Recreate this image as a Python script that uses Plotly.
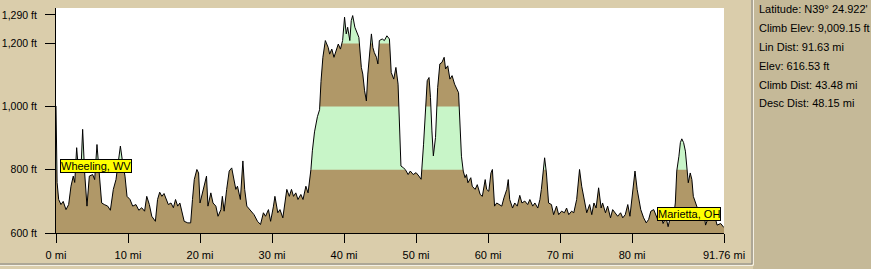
import plotly.graph_objects as go

# ---- elevation profile ----
dist_mi = [
    0.0, 0.05, 0.15, 0.37, 0.69, 1.0, 1.39, 1.76, 2.08, 2.4, 2.6, 2.87, 3.15, 3.47, 3.7, 3.98,
    4.3, 4.63, 5.09, 5.37, 5.69, 6.0, 6.34, 6.71, 7.18, 7.55, 7.96, 8.33, 8.6, 8.94, 9.26, 9.58,
    9.86, 10.28, 10.65, 11.1, 11.5, 11.9, 12.3, 12.6, 12.96, 13.3, 13.8, 14.1, 14.4, 14.7, 15.0,
    15.3, 15.6, 15.97, 16.3, 16.6, 16.9, 17.2, 17.5, 17.8, 18.3, 18.7, 18.95, 19.2, 19.56, 19.8,
    20.0, 20.3, 20.6, 20.9, 21.1, 21.5, 21.8, 22.2, 22.5, 22.9, 23.1, 23.35, 23.7, 24.05, 24.4,
    24.7, 24.97, 25.2, 25.6, 25.95, 26.2, 26.5, 27.06, 27.5, 27.98, 28.4, 28.8, 29.1, 29.5, 29.8,
    30.2, 30.4, 30.8, 31.1, 31.5, 31.8, 32.05, 32.4, 32.7, 32.98, 33.3, 33.6, 34.0, 34.3, 34.7,
    35.0, 35.4, 35.6, 35.9, 36.3, 36.6, 36.8, 37.06, 37.4, 37.8, 38.0, 38.3, 38.6, 38.9, 39.2,
    39.5, 39.8, 40.07, 40.3, 40.5, 40.8, 41.0, 41.2, 41.5, 41.8, 42.06, 42.4, 42.6, 42.85, 43.1,
    43.3, 43.5, 43.8, 44.0, 44.2, 44.5, 44.7, 44.9, 45.3, 45.6, 45.95, 46.3, 46.55, 46.9, 47.2,
    47.5, 47.7, 47.9, 48.2, 48.5, 48.9, 49.2, 49.6, 50.0, 50.4, 50.7, 51.04, 51.3, 51.55, 51.8,
    52.0, 52.2, 52.4, 52.7, 53.0, 53.3, 53.6, 53.9, 54.1, 54.4, 54.7, 55.0, 55.35, 55.9, 56.1,
    56.3, 56.55, 56.8, 57.0, 57.2, 57.6, 57.8, 58.2, 58.5, 58.9, 59.2, 59.6, 59.8, 60.1, 60.4,
    60.6, 60.9, 61.2, 61.5, 61.9, 62.2, 62.6, 62.8, 63.0, 63.4, 63.7, 64.05, 64.4, 64.7, 65.1,
    65.5, 65.8, 66.2, 66.5, 66.9, 67.2, 67.4, 67.7, 67.85, 68.1, 68.4, 68.8, 69.1, 69.5, 69.8,
    70.2, 70.6, 70.9, 71.2, 71.6, 71.9, 72.3, 72.7, 73.0, 73.4, 73.7, 74.1, 74.4, 74.7, 75.0,
    75.35, 75.7, 75.9, 76.3, 76.6, 77.0, 77.3, 77.7, 78.0, 78.4, 78.7, 79.05, 79.4, 79.7, 79.97,
    80.2, 80.4, 80.7, 80.9, 81.2, 81.6, 81.96, 82.3, 82.6, 83.0, 83.3, 83.6, 83.9, 84.3, 84.7,
    85.0, 85.4, 85.7, 86.0, 86.2, 86.5, 86.7, 86.9, 87.15, 87.4, 87.6, 87.8, 88.07, 88.3, 88.5,
    88.8, 89.2, 89.6, 90.0, 90.2, 90.6, 91.0, 91.4, 91.8, 92.3, 92.76,
]
elev_ft = [
    1002, 880, 760, 706, 690, 700, 674, 690, 748, 780, 760, 870, 790, 801, 928, 790,
    685, 780, 785, 769, 880, 790, 695, 690, 685, 672, 738, 769, 812, 875, 822, 780,
    716, 706, 685, 690, 672, 680, 669, 716, 690, 653, 637, 706, 729, 716, 725,
    706, 690, 695, 680, 706, 685, 695, 664, 637, 632, 632, 706, 769, 801, 790,
    695, 727, 759, 780, 685, 727, 695, 685, 653, 674, 716, 669, 738, 796, 806,
    769, 738, 748, 706, 828, 738, 685, 669, 658, 637, 627, 664, 653, 674, 637,
    685, 716, 664, 674, 648, 695, 738, 716, 738, 716, 727, 706, 722, 706, 748,
    727, 801, 860, 920, 968, 990, 1080, 1156, 1209, 1187, 1166, 1182, 1156, 1177, 1198,
    1182, 1209, 1283, 1230, 1251, 1209, 1272, 1288, 1251, 1235, 1219, 1124, 1103, 1050, 1018,
    1103, 1166, 1230, 1187, 1171, 1156, 1135, 1209, 1214, 1209, 1224, 1214, 1108, 1087, 1124,
    1071, 923, 812, 807, 801, 785, 796, 785, 791, 780, 770, 881, 976, 1082, 1092,
    1029, 923, 844, 902, 1060, 1135, 1140, 1156, 1119, 1129, 1087, 1098, 1071, 1044, 949,
    843, 796, 775, 785, 759, 775, 748, 738, 753, 722, 716, 769, 738, 732, 790,
    801, 685, 695, 690, 685, 711, 738, 769, 706, 679, 695, 685, 719, 695, 701,
    690, 706, 685, 695, 679, 706, 738, 812, 838, 790, 695, 690, 658, 685, 658,
    669, 664, 679, 658, 669, 664, 706, 801, 748, 695, 664, 690, 658, 695, 679,
    743, 679, 695, 664, 685, 648, 674, 664, 653, 664, 648, 658, 690, 653, 716,
    759, 796, 738, 706, 674, 648, 632, 643, 669, 674, 658, 640, 665, 630, 650,
    620, 660, 640, 695, 796, 843, 886, 898, 886, 859, 801, 759, 790, 769, 716,
    695, 670, 650, 660, 625, 650, 640, 660, 625, 630, 617,
]

x_tick_vals = [0, 10, 20, 30, 40, 50, 60, 70, 80, 92.76]
x_tick_text = ["0 mi", "10 mi", "20 mi", "30 mi", "40 mi", "50 mi", "60 mi", "70 mi", "80 mi", "91.76 mi"]
y_tick_vals = [600, 800, 1000, 1200, 1290]
y_tick_text = ["600 ft", "800 ft", "1,000 ft", "1,200 ft", "1,290 ft"]

place_names = ["Wheeling, WV", "Marietta, OH"]
place_mi = [0.5, 83.4]
place_ft = [813, 660]

readout = [
    "Latitude: N39° 24.922'",
    "Climb Elev: 9,009.15 ft",
    "Lin Dist: 91.63 mi",
    "Elev: 616.53 ft",
    "Climb Dist: 43.48 mi",
    "Desc Dist: 48.15 mi",
]

# ---- styling ----
W, H = 871, 269
ML, MR, MT, MB = 56, 147, 8, 36
PW, PH = W - ML - MR, H - MT - MB
BG_LEFT = "#DACDAB"
BG_RIGHT = "#C5B998"
BROWN = "#B09868"
GREEN = "#C8F5C8"
FONT = "Liberation Sans, Arial, sans-serif"
X_RANGE = [0, 92.76]
Y_RANGE = [600, 1312]
BROWN_BANDS = [(500, 800), (1000, 1200)]
TOP = 1400


def px(xp):
    return (xp - ML) / PW


def py(yp):
    return (H - MB - yp) / PH


fig = go.Figure()

# everything under the profile green first
fig.add_trace(go.Scatter(x=dist_mi, y=elev_ft, mode="lines", fill="tozeroy",
                         fillcolor=GREEN, line=dict(width=0), hoverinfo="skip"))
# brown bands
d0, d1 = min(dist_mi), max(dist_mi)
for lo, hi in BROWN_BANDS:
    fig.add_trace(go.Scatter(x=[d0, d0, d1, d1, d0], y=[lo, hi, hi, lo, lo], mode="lines",
                             fill="toself", fillcolor=BROWN, line=dict(width=0), hoverinfo="skip"))
# white above the profile
fig.add_trace(go.Scatter(x=[d0, d1], y=[TOP, TOP], mode="lines", line=dict(width=0), hoverinfo="skip"))
fig.add_trace(go.Scatter(x=dist_mi, y=elev_ft, mode="lines", fill="tonexty", fillcolor="white",
                         line=dict(color="black", width=1), hoverinfo="skip"))

shapes = [
    # right readout panel
    dict(type="rect", xref="paper", yref="paper", x0=px(753), x1=px(W + 2), y0=py(H + 2), y1=py(-2),
         fillcolor=BG_RIGHT, line=dict(width=0), layer="below"),
    # sunken frame of the chart panel
    dict(type="line", xref="paper", yref="paper", x0=px(0), x1=px(752), y0=py(264), y1=py(264),
         line=dict(color="#808080", width=1)),
    dict(type="line", xref="paper", yref="paper", x0=px(0), x1=px(753), y0=py(265.5), y1=py(265.5),
         line=dict(color="#F4F0E4", width=1)),
    dict(type="line", xref="paper", yref="paper", x0=px(752), x1=px(752), y0=py(0), y1=py(264),
         line=dict(color="#808080", width=1)),
    dict(type="line", xref="paper", yref="paper", x0=px(753.5), x1=px(753.5), y0=py(0), y1=py(265.5),
         line=dict(color="#F4F0E4", width=1)),
]

annotations = []
for name, xm, yf in zip(place_names, place_mi, place_ft):
    annotations.append(dict(x=xm, y=yf, xref="x", yref="y", text=name, showarrow=False,
                            xanchor="left", yanchor="middle", bgcolor="#FFFF00",
                            bordercolor="black", borderwidth=1, borderpad=0,
                            font=dict(family=FONT, size=11, color="black")))
for i, line in enumerate(readout):
    annotations.append(dict(x=px(757), y=py(8.5 + 19 * i), xref="paper", yref="paper", text=line,
                            showarrow=False, xanchor="left", yanchor="middle",
                            font=dict(family=FONT, size=11, color="black")))

fig.update_layout(
    width=W, height=H,
    margin=dict(l=ML, r=MR, t=MT, b=MB, autoexpand=False),
    paper_bgcolor=BG_LEFT, plot_bgcolor="white",
    showlegend=False,
    shapes=shapes,
    annotations=annotations,
    font=dict(family=FONT, size=11, color="black"),
)
fig.update_xaxes(range=X_RANGE, tickvals=x_tick_vals, ticktext=x_tick_text, showgrid=False,
                 zeroline=False, showline=True, linecolor="black", linewidth=1, ticks="outside",
                 ticklen=9, tickcolor="black", tickwidth=1, ticklabelstandoff=3, automargin=False,
                 tickfont=dict(family=FONT, size=11, color="black"), fixedrange=True)
fig.update_yaxes(range=Y_RANGE, tickvals=y_tick_vals, ticktext=y_tick_text, showgrid=False,
                 zeroline=False, showline=True, linecolor="black", linewidth=1, ticks="outside",
                 ticklen=10, tickcolor="black", tickwidth=1, ticklabelstandoff=6, automargin=False,
                 tickfont=dict(family=FONT, size=10.5, color="black"), fixedrange=True)

fig.write_html("out.html", config={"displayModeBar": False})
